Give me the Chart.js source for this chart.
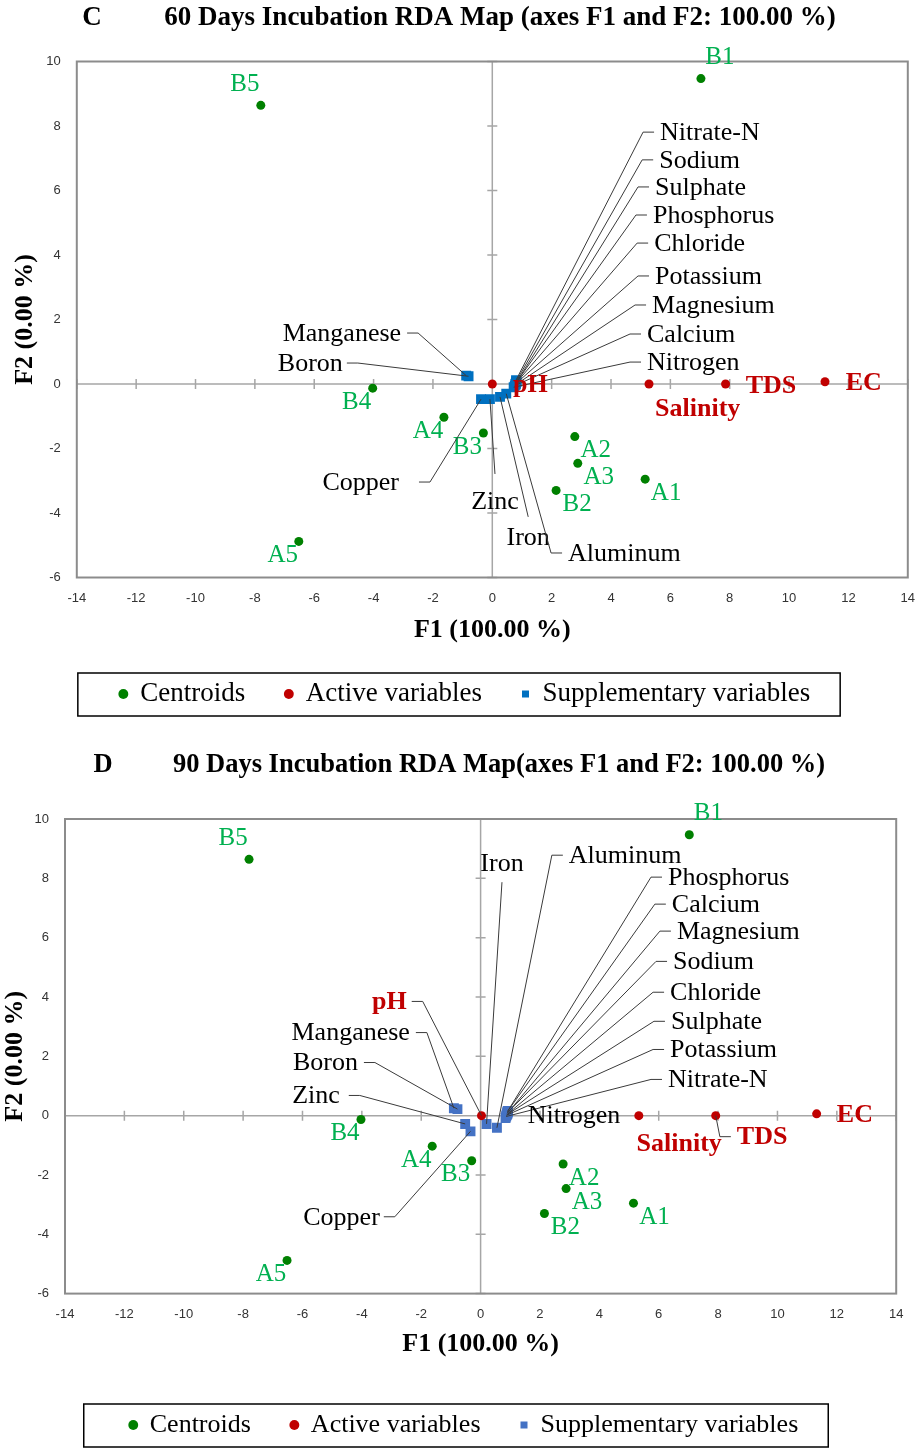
<!DOCTYPE html>
<html><head><meta charset="utf-8">
<script src="https://cdn.jsdelivr.net/npm/chart.js@4.4.1/dist/chart.umd.min.js"></script>
<style>
html,body{margin:0;padding:0;background:#fff;}
#wrap{position:relative;width:916px;height:1448px;overflow:hidden;}
canvas{position:absolute;left:0;}
#c60{top:0;} #c90{top:740px;}
</style></head><body>
<div id="wrap"><canvas id="c60" width="916" height="740"></canvas><canvas id="c90" width="916" height="708"></canvas></div>
<script>
// ---------- data ----------
const centroidNames = ['A1','A2','A3','A4','A5','B1','B2','B3','B4','B5'];
const centroidF1 = [5.15, 2.78, 2.88, -1.63, -6.52, 7.03, 2.15, -0.30, -4.03, -7.80];
const centroidF2 = [-2.95, -1.63, -2.46, -1.03, -4.88, 9.47, -3.30, -1.52, -0.13, 8.64];

const activeNames = ['pH','Salinity','TDS','EC'];
const active60F1 = [0.00, 5.28, 7.86, 11.21];
const active60F2 = [0.00, 0.00, 0.00, 0.07];
const active90F1 = [0.03, 5.33, 7.92, 11.32];
const active90F2 = [0.00, 0.00, 0.00, 0.06];

const suppNames = ['Nitrogen','Nitrate-N','Phosphorus','Potassium','Calcium','Magnesium','Sodium','Chloride','Sulphate','Iron','Zinc','Copper','Manganese','Boron','Aluminum'];
const supp60F1 = [0.72, 0.80, 0.80, 0.78, 0.76, 0.79, 0.81, 0.79, 0.82, 0.26, -0.08, -0.38, -0.88, -0.80, 0.47];
const supp60F2 = [-0.10, 0.12, 0.04, 0.00, -0.05, -0.02, 0.09, 0.02, 0.06, -0.40, -0.47, -0.47, 0.26, 0.24, -0.30];
const supp90F1 = [0.84, 0.86, 0.92, 0.87, 0.90, 0.92, 0.89, 0.90, 0.88, 0.20, -0.52, -0.34, -0.90, -0.78, 0.55];
const supp90F2 = [-0.08, -0.03, 0.16, 0.01, 0.13, 0.10, 0.08, 0.05, 0.03, -0.28, -0.28, -0.53, 0.25, 0.22, -0.41];

const f1Ticks = [-14,-12,-10,-8,-6,-4,-2,0,2,4,6,8,10,12,14];
const f2Ticks = [-6,-4,-2,0,2,4,6,8,10];

const seriesLabels = ['Centroids','Active variables','Supplementary variables'];

// ---------- label layout (leader elbows in axis units) ----------
const centroidLabelPlacement = {A1:'br',A2:'br',A3:'br',B2:'br',A4:'bl',A5:'bl',B3:'bl',B4:'bl',B1:'ar',B5:'al'};
const placementOffsets = {br:[21,14], bl:[-16,14], ar:[19,-21], al:[-16,-21]};

const labels60 = [
  {n:'Nitrate-N', e:[5.08,7.81], s:1},
  {n:'Sodium', e:[5.05,6.95], s:1},
  {n:'Sulphate', e:[4.91,6.11], s:1},
  {n:'Phosphorus', e:[4.84,5.24], s:1},
  {n:'Chloride', e:[4.88,4.37], s:1},
  {n:'Potassium', e:[4.91,3.35], s:1},
  {n:'Magnesium', e:[4.81,2.45], s:1},
  {n:'Calcium', e:[4.64,1.55], s:1},
  {n:'Nitrogen', e:[4.64,0.68], s:1},
  {n:'Manganese', e:[-2.50,1.58], s:-1},
  {n:'Boron', e:[-4.53,0.65], s:-1, gap:4},
  {n:'Copper', e:[-2.10,-3.04], s:-1, gap:20},
  {n:'Zinc', e:[0.09,-2.79], s:0, dy:28},
  {n:'Iron', e:[1.21,-4.12], s:0, dy:21},
  {n:'Aluminum', e:[1.98,-5.24], s:1},
  {n:'pH', t:[0.70,-0.03], align:'left'},
  {n:'Salinity', t:[6.92,-0.78], align:'center'},
  {n:'TDS', t:[8.54,-0.06], align:'left'},
  {n:'EC', t:[11.91,0.03], align:'left'}
];
const labels90 = [
  {n:'Phosphorus', e:[5.74,8.04], s:1},
  {n:'Calcium', e:[5.87,7.13], s:1},
  {n:'Magnesium', e:[6.04,6.22], s:1},
  {n:'Sodium', e:[5.91,5.20], s:1},
  {n:'Chloride', e:[5.81,4.16], s:1},
  {n:'Sulphate', e:[5.84,3.18], s:1},
  {n:'Potassium', e:[5.81,2.23], s:1},
  {n:'Nitrate-N', e:[5.74,1.22], s:1},
  {n:'Nitrogen', t:[1.59,-0.03], align:'left'},
  {n:'Aluminum', e:[2.40,8.78], s:1},
  {n:'Iron', e:[0.72,7.87], s:0, dy:-18},
  {n:'Manganese', e:[-1.81,2.80], s:-1},
  {n:'Boron', e:[-3.56,1.79], s:-1},
  {n:'Zinc', e:[-4.07,0.68], s:-1, gap:9},
  {n:'Copper', e:[-2.89,-3.41], s:-1, gap:4},
  {n:'pH', e:[-1.95,3.85], s:-1, gap:5},
  {n:'Salinity', t:[6.69,-0.98], align:'center'},
  {n:'TDS', e:[8.06,-0.71], s:1},
  {n:'EC', t:[12.0,0.0], align:'left'}
];

const SERIF = "'Liberation Serif','Times New Roman',serif";
const NARROW = "'Liberation Sans Narrow','Arial Narrow','Liberation Sans',sans-serif";
const GREEN = '#008000', GREEN_TXT = '#00b050', RED = '#c00000';

function pts(names, xs, ys){ return names.map((n,i)=>({x:xs[i], y:ys[i], name:n})); }

function makePlugin(cfg){
  return {
    id: 'rda_'+cfg.id,
    beforeDatasetsDraw(chart){
      const {ctx, chartArea:a, scales:{x, y}} = chart;
      ctx.save();
      const x0 = x.getPixelForValue(0), y0 = y.getPixelForValue(0);
      ctx.strokeStyle = '#a6a6a6'; ctx.lineWidth = 1.5;
      ctx.beginPath();
      ctx.moveTo(a.left, y0); ctx.lineTo(a.right, y0);
      ctx.moveTo(x0, a.top); ctx.lineTo(x0, a.bottom);
      f1Ticks.forEach(v=>{ const px = x.getPixelForValue(v); ctx.moveTo(px, y0-5); ctx.lineTo(px, y0+5); });
      f2Ticks.forEach(v=>{ const py = y.getPixelForValue(v); ctx.moveTo(x0-5, py); ctx.lineTo(x0+5, py); });
      ctx.stroke();
      ctx.strokeStyle = '#8c8c8c'; ctx.lineWidth = 2;
      ctx.strokeRect(a.left, a.top, a.right-a.left, a.bottom-a.top);
      ctx.restore();
    },
    afterDatasetsDraw(chart){
      const {ctx, scales:{x, y}} = chart;
      const find = (name)=>{
        for (let d=0; d<chart.data.datasets.length; d++){
          const ds = chart.data.datasets[d];
          const p = ds.data.find(q=>q.name===name);
          if (p) return {px:x.getPixelForValue(p.x), py:y.getPixelForValue(p.y), d};
        }
        return null;
      };
      ctx.save();
      ctx.textBaseline = 'middle';
      ctx.font = '25px ' + SERIF; ctx.fillStyle = GREEN_TXT; ctx.textAlign = 'center';
      centroidNames.forEach(n=>{
        const p = find(n); const o = placementOffsets[centroidLabelPlacement[n]];
        ctx.fillText(n, p.px + o[0], p.py + o[1]);
      });
      cfg.labels.forEach(l=>{
        const p = find(l.n); if (!p) return;
        const active = p.d === 1;
        ctx.font = (active ? 'bold 26px ' : '26px ') + SERIF;
        ctx.fillStyle = active ? RED : '#000';
        if (l.e){
          const ex = x.getPixelForValue(l.e[0]), ey = y.getPixelForValue(l.e[1]);
          ctx.strokeStyle = '#3a3a3a'; ctx.lineWidth = 1;
          ctx.beginPath(); ctx.moveTo(p.px, p.py); ctx.lineTo(ex, ey);
          if (l.s) ctx.lineTo(ex + l.s*11, ey);
          ctx.stroke();
          const gap = (l.gap===undefined ? 6 : l.gap);
          if (l.s === 1){ ctx.textAlign='left'; ctx.fillText(l.n, ex + 11 + gap, ey + 1); }
          else if (l.s === -1){ ctx.textAlign='right'; ctx.fillText(l.n, ex - 11 - gap, ey + 1); }
          else { ctx.textAlign='center'; ctx.fillText(l.n, ex, ey + l.dy); }
        } else {
          ctx.textAlign = l.align;
          ctx.fillText(l.n, x.getPixelForValue(l.t[0]), y.getPixelForValue(l.t[1]));
        }
      });
      ctx.restore();
    },
    afterDraw(chart){
      const ctx = chart.ctx;
      ctx.save();
      ctx.fillStyle = '#000'; ctx.textBaseline = 'middle';
      ctx.font = 'bold ' + cfg.titleSize + 'px ' + SERIF;
      ctx.textAlign = 'center';
      ctx.fillText(cfg.letter, cfg.letterX, cfg.headY);
      ctx.fillText(cfg.title, cfg.titleX, cfg.headY);
      const hb = chart.legend.legendHitBoxes;
      if (hb && hb.length){
        const first = hb[0], last = hb[hb.length-1];
        const cy = first.top + first.height/2;
        const l = first.left - cfg.legL, r = last.left + last.width + cfg.legR;
        ctx.strokeStyle = '#000'; ctx.lineWidth = 1.5;
        ctx.strokeRect(l, cy - 21, r - l, 43);
      }
      ctx.restore();
    }
  };
}

function build(cfg){
  const ticksFont = {family: NARROW, size: 13};
  const titleFont = {family: SERIF, size: 26, weight: 'bold', lineHeight: 1};
  return new Chart(document.getElementById(cfg.id), {
    type: 'scatter',
    data: {
      datasets: [
        {label: seriesLabels[0], data: pts(centroidNames, centroidF1, centroidF2), pointStyle:'circle', pointRadius:4.5, backgroundColor:GREEN, borderColor:GREEN, pointBorderWidth:0},
        {label: seriesLabels[1], data: pts(activeNames, cfg.aF1, cfg.aF2), pointStyle:'circle', pointRadius:4.5, backgroundColor:RED, borderColor:RED, pointBorderWidth:0},
        {label: seriesLabels[2], data: pts(suppNames, cfg.sF1, cfg.sF2), pointStyle:'rect', pointRadius:7, backgroundColor:cfg.blue, borderColor:cfg.blue, pointBorderWidth:0}
      ]
    },
    options: {
      responsive: false, animation: false, devicePixelRatio: 1,
      layout: {padding: {left: cfg.padL, right: cfg.padR, top: cfg.padT, bottom: cfg.padB}},
      plugins: {
        tooltip: {enabled: false},
        title: {display: false},
        legend: {
          display: true, position: 'bottom',
          labels: {usePointStyle: true, boxWidth: 7, boxHeight: 7, padding: 40, color: '#000',
                   font: {family: SERIF, size: cfg.legSize}}
        }
      },
      scales: {
        x: {
          type: 'linear', min: f1Ticks[0], max: f1Ticks[f1Ticks.length-1],
          afterBuildTicks: s => { s.ticks = f1Ticks.map(v=>({value:v})); },
          afterFit: s => { s.height = cfg.xH; s.paddingLeft = 0; s.paddingRight = 0; },
          grid: {display: false, drawTicks: false}, border: {display: false},
          ticks: {font: ticksFont, color: '#333', padding: cfg.tickPadX, maxRotation: 0, autoSkip: false},
          title: {display: true, text: 'F1 (100.00 %)', font: titleFont, color: '#000', padding: {top: 0, bottom: cfg.xTitlePad}}
        },
        y: {
          type: 'linear', min: f2Ticks[0], max: f2Ticks[f2Ticks.length-1],
          afterBuildTicks: s => { s.ticks = f2Ticks.map(v=>({value:v})); },
          afterFit: s => { s.width = cfg.yW; s.paddingTop = 0; s.paddingBottom = 0; },
          grid: {display: false, drawTicks: false}, border: {display: false},
          ticks: {font: ticksFont, color: '#333', padding: 16, autoSkip: false},
          title: {display: true, text: 'F2 (0.00 %)', font: titleFont, color: '#000', padding: {top: cfg.yTitlePad, bottom: 0}}
        }
      }
    },
    plugins: [makePlugin(cfg)]
  });
}

build({id:'c60', aF1:active60F1, aF2:active60F2, sF1:supp60F1, sF2:supp60F2, blue:'#0070c0', labels:labels60,
  padL:22.2, padR:8.2, padT:61.5, padB:22.5, yW:54.6, xH:63, tickPadX:12.7, xTitlePad:-2.5, yTitlePad:-10.2,
  legSize:27, legL:42, legR:30,
  letter:'C', letterX:92, title:'60 Days Incubation RDA Map (axes F1 and F2: 100.00 %)', titleX:500, titleSize:27, headY:18});
build({id:'c90', aF1:active90F1, aF2:active90F2, sF1:supp90F1, sF2:supp90F2, blue:'#4472c4', labels:labels90,
  padL:31.8, padR:19.8, padT:79, padB:0, yW:33.2, xH:78.4, tickPadX:12.6, xTitlePad:15, yTitlePad:-29.8,
  legSize:26, legL:46, legR:30,
  letter:'D', letterX:103, title:'90 Days Incubation RDA Map(axes F1 and F2: 100.00 %)', titleX:499, titleSize:26.5, headY:25});
</script></body></html>
